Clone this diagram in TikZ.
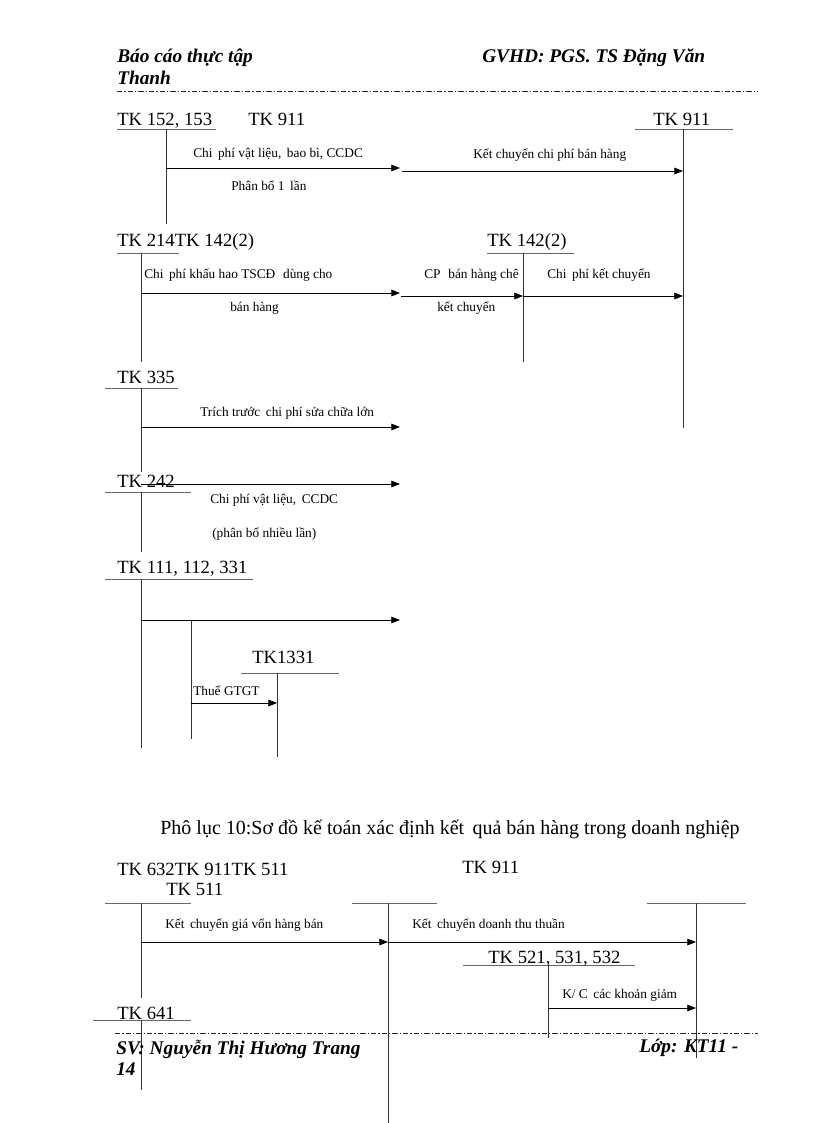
\documentclass[tikz,border=0pt]{standalone}
\usepackage{fontspec}
\setmainfont{Liberation Serif}
\usetikzlibrary{arrows.meta}
\begin{document}
\begin{tikzpicture}[x=0.75pt,y=-0.75pt,
  big/.style={font=\fontsize{14}{16}\selectfont, inner sep=0, anchor=base west},
  small/.style={font=\fontsize{10}{12}\selectfont, inner sep=0, anchor=base west},
  head/.style={font=\fontsize{14.5}{17}\selectfont\bfseries\itshape, inner sep=0, anchor=base west},
  acct/.style={draw=black!80, line width=0.7pt},
  uline/.style={draw=black!60, line width=0.6pt},
  arr/.style={draw=black, line width=0.6pt, -{Triangle[length=6.5pt,width=5pt]}},
  dashdot/.style={draw=black!85, line width=0.6pt, dash pattern=on 4pt off 1.5pt on 1pt off 1.5pt}]
\useasboundingbox (0,0) rectangle (816,1123);
\fill[white] (0,0) rectangle (816,1123);

% ---------- header ----------
\node[head] (h1) at (117,63) {Báo cáo thực tập};
\node[head] (h2) at (117,85) {Thanh};
\node[head] (h3) at (482,63) {GVHD: PGS. TS Đặng Văn};
\coordinate (hl1) at (117,91); \coordinate (hl2) at (758,91);
\draw[dashdot] (hl1) -- (hl2);

% ---------- section A ----------
\node[big] (tk152) at (117,126) {TK 152, 153};
\node[big] (tk911a) at (248,126) {TK 911};
\node[big] (tk911b) at (653,126) {TK 911};
\coordinate (u1a) at (117,129); \coordinate (u1b) at (216,129);
\coordinate (u2a) at (635,129); \coordinate (u2b) at (733,129);
\draw[uline] (u1a) -- (u1b);
\draw[uline] (u2a) -- (u2b);
\coordinate (v1t) at (166,129); \coordinate (v1b) at (166,224);
\coordinate (v2t) at (683,129); \coordinate (v2b) at (683,428);
\draw[acct] (v1t) -- (v1b);
\draw[acct] (v2t) -- (v2b);
\coordinate (a1s) at (166,168); \coordinate (a1e) at (400,168);
\coordinate (a2s) at (402,171); \coordinate (a2e) at (683,171);
\draw[arr] (a1s) -- (a1e);
\draw[arr] (a2s) -- (a2e);
\node[small] (t1) at (193,158) {Chi\, phí vật liệu,\, bao bì, CCDC};
\node[small] (t2) at (231,191) {Phân bổ 1\, lần};
\node[small] (t3) at (473,159) {Kết chuyển chi phí bán hàng};

% ---------- section B ----------
\node[big] (tk214) at (117,247) {TK 214TK 142(2)};
\node[big] (tk142) at (487,247) {TK 142(2)};
\coordinate (u3a) at (117,253); \coordinate (u3b) at (179,253);
\coordinate (u4a) at (487,253); \coordinate (u4b) at (574,253);
\draw[uline] (u3a) -- (u3b);
\draw[uline] (u4a) -- (u4b);
\coordinate (v3t) at (141,253); \coordinate (v3b) at (141,362);
\coordinate (v4t) at (523,253); \coordinate (v4b) at (523,362);
\draw[acct] (v3t) -- (v3b);
\draw[acct] (v4t) -- (v4b);
\coordinate (b1s) at (141,293); \coordinate (b1e) at (400,293);
\coordinate (b2s) at (401,296); \coordinate (b2e) at (523,296);
\coordinate (b3e) at (683,296);
\draw[arr] (b1s) -- (b1e);
\draw[arr] (b2s) -- (b2e);
\draw[arr] (b2e) -- (b3e);
\node[small] (t4) at (144,278) {Chi\, phí khấu hao TSCĐ\, \,dùng cho};
\node[small] (t5) at (230,311) {bán hàng};
\node[small] (t6) at (424,278) {CP\, \,bán hàng chê};
\node[small] (t7) at (437,311) {kết chuyển};
\node[small] (t8) at (547,278) {Chi\, phí kết chuyển};

% ---------- section C ----------
\node[big] (tk335) at (117,383) {TK 335};
\coordinate (u5a) at (105,388); \coordinate (u5b) at (178,388);
\draw[uline] (u5a) -- (u5b);
\coordinate (v5t) at (141,388); \coordinate (v5b) at (141,472);
\draw[acct] (v5t) -- (v5b);
\coordinate (c1s) at (141,427); \coordinate (c1e) at (400,427);
\draw[arr] (c1s) -- (c1e);
\node[small] (t9) at (200,416) {Trích trước\, chi phí sửa chữa lớn};

\node[big] (tk242) at (117,487) {TK 242};
\coordinate (u6a) at (105,492); \coordinate (u6b) at (191,492);
\draw[uline] (u6a) -- (u6b);
\coordinate (c2s) at (141,484); \coordinate (c2e) at (400,484);
\draw[arr] (c2s) -- (c2e);
\coordinate (v6t) at (141,492); \coordinate (v6b) at (141,552);
\draw[acct] (v6t) -- (v6b);
\node[small] (t10) at (210,503) {Chi phí vật liệu,\, CCDC};
\node[small] (t11) at (212,537) {(phân bổ nhiều lần)};

% ---------- section D ----------
\node[big] (tk111) at (117,573) {TK 111, 112, 331};
\coordinate (u7a) at (105,579); \coordinate (u7b) at (253,579);
\draw[uline] (u7a) -- (u7b);
\coordinate (v7t) at (141,579); \coordinate (v7b) at (141,748);
\draw[acct] (v7t) -- (v7b);
\coordinate (d1s) at (141,620); \coordinate (d1e) at (400,620);
\draw[arr] (d1s) -- (d1e);
\coordinate (v8t) at (191,620); \coordinate (v8b) at (191,739);
\draw[acct] (v8t) -- (v8b);
\node[big] (tk1331) at (252,663) {TK1331};
\coordinate (u8a) at (241,673); \coordinate (u8b) at (339,673);
\draw[uline] (u8a) -- (u8b);
\coordinate (v9t) at (277,673); \coordinate (v9b) at (277,757);
\draw[acct] (v9t) -- (v9b);
\coordinate (d2s) at (191,703); \coordinate (d2e) at (277,703);
\draw[arr] (d2s) -- (d2e);
\node[small] (t12) at (193,695) {Thuế GTGT};

% ---------- caption ----------
\node[font=\fontsize{15}{17}\selectfont, inner sep=0, anchor=base] (cap) at (450,834)
  {Phô lục 10:Sơ đồ kế toán xác định kết\, quả bán hàng trong doanh nghiệp};

% ---------- section E ----------
\node[big] (tk632) at (117,875) {TK 632TK 911TK 511};
\node[big] (tk511) at (166,895) {TK 511};
\node[big] (tk911c) at (462,873) {TK 911};
\coordinate (u9a) at (105,903); \coordinate (u9b) at (191,903);
\coordinate (u10a) at (352,903); \coordinate (u10b) at (437,903);
\coordinate (u11a) at (647,903); \coordinate (u11b) at (746,903);
\draw[uline] (u9a) -- (u9b);
\draw[uline] (u10a) -- (u10b);
\draw[uline] (u11a) -- (u11b);
\coordinate (v10t) at (141,903); \coordinate (v10b) at (141,998);
\coordinate (v11t) at (388,903); \coordinate (v11b) at (388,1123);
\coordinate (v12t) at (696,903); \coordinate (v12b) at (696,1058);
\draw[acct] (v10t) -- (v10b);
\draw[acct] (v11t) -- (v11b);
\draw[acct] (v12t) -- (v12b);
\coordinate (e1s) at (141,942); \coordinate (e1e) at (388,942);
\coordinate (e2e) at (696,942);
\draw[arr] (e1s) -- (e1e);
\draw[arr] (e1e) -- (e2e);
\node[small] (t13) at (165,928) {Kết\, chuyển giá vốn hàng bán};
\node[small] (t14) at (412,928) {Kết\, chuyển doanh thu thuần};

\node[big] (tk521) at (488,963) {TK 521, 531, 532};
\coordinate (u12a) at (463,965); \coordinate (u12b) at (635,965);
\draw[uline] (u12a) -- (u12b);
\coordinate (v13t) at (548,965); \coordinate (v13b) at (548,1038);
\draw[acct] (v13t) -- (v13b);
\coordinate (e3s) at (548,1008); \coordinate (e3e) at (696,1008);
\draw[arr] (e3s) -- (e3e);
\node[small] (t15) at (562,998) {K/ C\, các khoản giảm};

\node[big] (tk641) at (117,1019) {TK 641};
\coordinate (u13a) at (93,1020); \coordinate (u13b) at (191,1020);
\draw[uline] (u13a) -- (u13b);
\coordinate (v14t) at (141,1020); \coordinate (v14b) at (141,1090);
\draw[acct] (v14t) -- (v14b);

% ---------- footer ----------
\coordinate (fl1) at (115,1033); \coordinate (fl2) at (758,1033);
\draw[dashdot] (fl1) -- (fl2);
\node[head] (f1) at (116,1054) {SV: Nguyễn Thị Hương Trang};
\node[head] (f2) at (116,1075) {14};
\node[head] (f3) at (639,1052) {Lớp: KT11 -};
\end{tikzpicture}
\end{document}
